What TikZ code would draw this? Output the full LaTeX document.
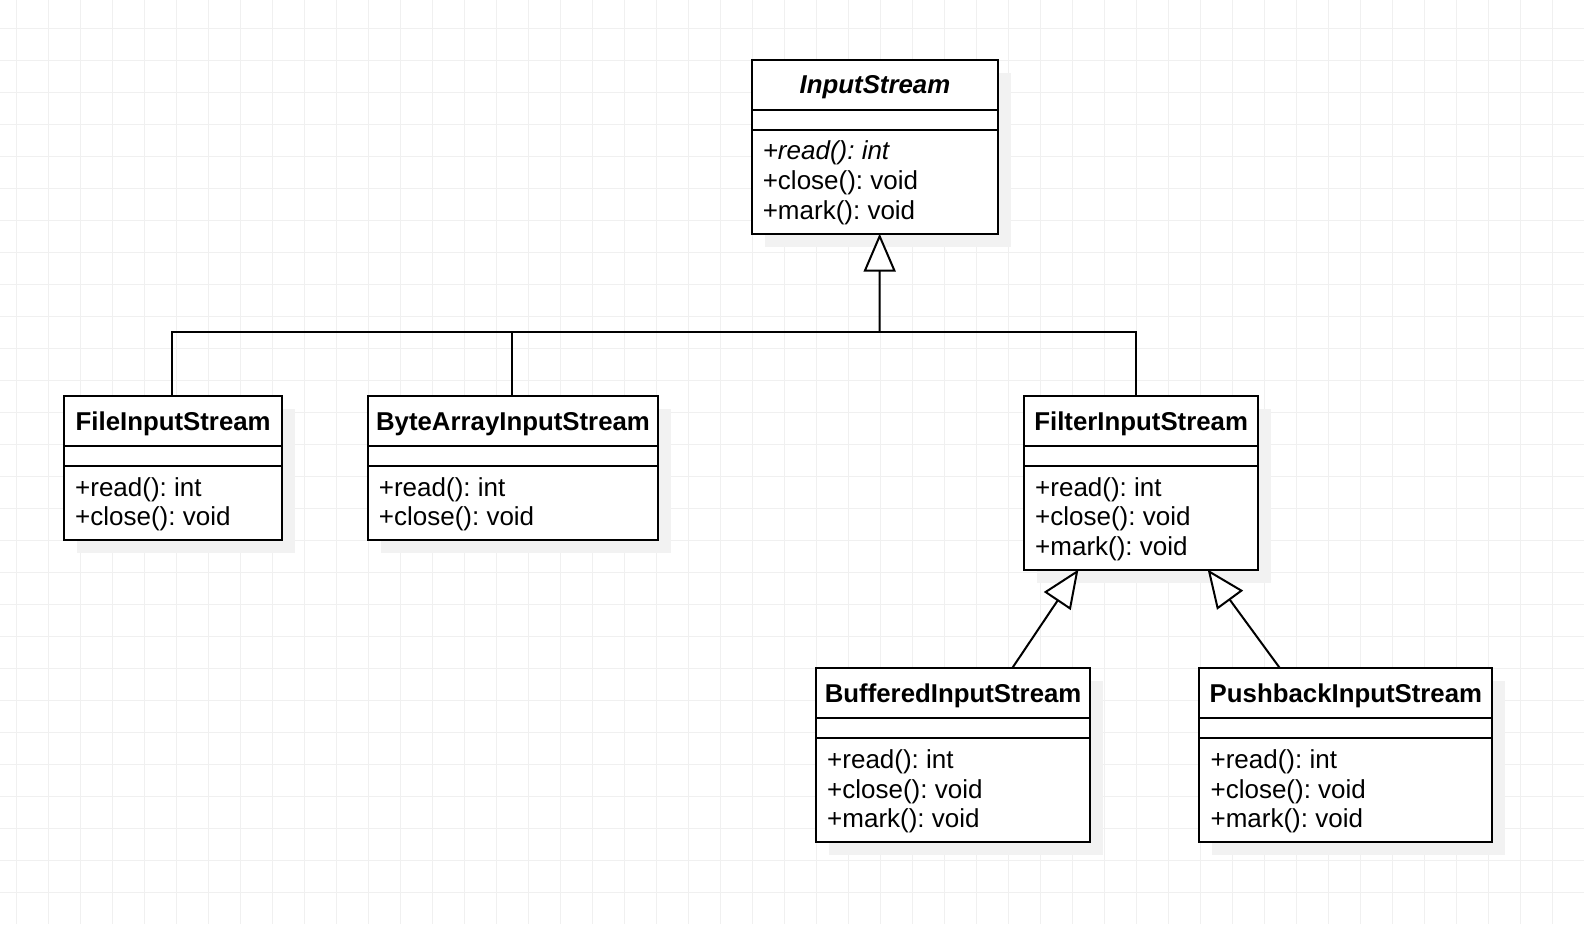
\documentclass[tikz,border=0pt]{standalone}
\usepackage{fontspec}
\setmainfont{Liberation Sans}
\usetikzlibrary{arrows.meta,shadows}
\frenchspacing
\tikzset{
  gridline/.style={draw=black!6, line width=1pt},
  clsbox/.style={draw=black, line width=2pt, fill=white, rectangle, inner sep=0pt, outer sep=0pt, anchor=north west,
    drop shadow={shadow xshift=13pt, shadow yshift=-13pt, fill=black!5, opacity=1, draw=none}},
  sep/.style={draw=black, line width=2pt},
  clstitle/.style={anchor=base, inner sep=0pt, font=\fontsize{25.8}{30}\selectfont\bfseries},
  meth/.style={anchor=base west, inner sep=0pt, font=\fontsize{26}{30}\selectfont},
  link/.style={draw=black, line width=2pt},
  inh/.style={draw=black, line width=2pt, -{Triangle[fill=white, length=38pt, width=32pt]}},
}
\newcommand\clsdivs[1]{%
  \draw[sep] ([yshift=-50pt]#1.north west) -- ([yshift=-50pt]#1.north east);
  \draw[sep] ([yshift=-70pt]#1.north west) -- ([yshift=-70pt]#1.north east);}
\newcommand\clsmeth[3]{%
  \node[meth] (#1-m#2) at ([xshift=11pt,yshift={-70.5pt-29.7pt*#2}]#1.north west) {#3};}
\newcommand\clsname[2]{%
  \node[clstitle] (#1-t) at ([yshift=-34pt]#1.north) {#2};}
\begin{document}
\begin{tikzpicture}[x=1pt,y=-1pt]
  \useasboundingbox (0,0) rectangle (1584,924);
  \fill[white] (0,0) rectangle (1584,924);
  \foreach \gx in {16,48,...,1584} \draw[gridline] (\gx,0) -- (\gx,924);
  \foreach \gy in {28.5,60.5,...,924} \draw[gridline] (0,\gy) -- (1584,\gy);

  % classes
  \node[clsbox, minimum width=246.7pt, minimum height=174pt] (is) at (751.6,59.6) {};
  \node[clsbox, minimum width=218.3pt, minimum height=144pt] (fis) at (64,396) {};
  \node[clsbox, minimum width=290.6pt, minimum height=144pt] (bais) at (367.7,396) {};
  \node[clsbox, minimum width=234.3pt, minimum height=173.5pt] (fltr) at (1024,396) {};
  \node[clsbox, minimum width=274.2pt, minimum height=173.5pt] (buf) at (816,668.3) {};
  \node[clsbox, minimum width=293pt, minimum height=173.5pt] (pb) at (1199.4,668.3) {};

  \clsdivs{is}\clsdivs{fis}\clsdivs{bais}\clsdivs{fltr}\clsdivs{buf}\clsdivs{pb}

  \node[clstitle, font=\fontsize{25.8}{30}\selectfont\bfseries\itshape] (is-t) at ([yshift=-34pt]is.north) {InputStream};
  \clsmeth{is}{1}{\itshape +read(): int}
  \clsmeth{is}{2}{+close(): void}
  \clsmeth{is}{3}{+mark(): void}

  \clsname{fis}{FileInputStream}
  \clsmeth{fis}{1}{+read(): int}
  \clsmeth{fis}{2}{+close(): void}

  \clsname{bais}{ByteArrayInputStream}
  \clsmeth{bais}{1}{+read(): int}
  \clsmeth{bais}{2}{+close(): void}

  \clsname{fltr}{FilterInputStream}
  \clsmeth{fltr}{1}{+read(): int}
  \clsmeth{fltr}{2}{+close(): void}
  \clsmeth{fltr}{3}{+mark(): void}

  \clsname{buf}{BufferedInputStream}
  \clsmeth{buf}{1}{+read(): int}
  \clsmeth{buf}{2}{+close(): void}
  \clsmeth{buf}{3}{+mark(): void}

  \clsname{pb}{PushbackInputStream}
  \clsmeth{pb}{1}{+read(): int}
  \clsmeth{pb}{2}{+close(): void}
  \clsmeth{pb}{3}{+mark(): void}

  % connectors
  \coordinate (hub) at (879.7,332);
  \draw[link] ([xshift=-1.5pt]fis.north) |- (hub);
  \draw[link] ([xshift=-1.3pt]bais.north) -- ([xshift=-1.3pt]bais.north |- hub);
  \draw[link] ([xshift=-5pt]fltr.north) |- (hub);
  \draw[inh] (hub) -- ([xshift=4.7pt]is.south);
  \draw[inh] ([xshift=59pt]buf.north) -- ([xshift=-62.7pt]fltr.south);
  \draw[inh] ([xshift=-65.9pt]pb.north) -- ([xshift=66.5pt]fltr.south);
\end{tikzpicture}
\end{document}
